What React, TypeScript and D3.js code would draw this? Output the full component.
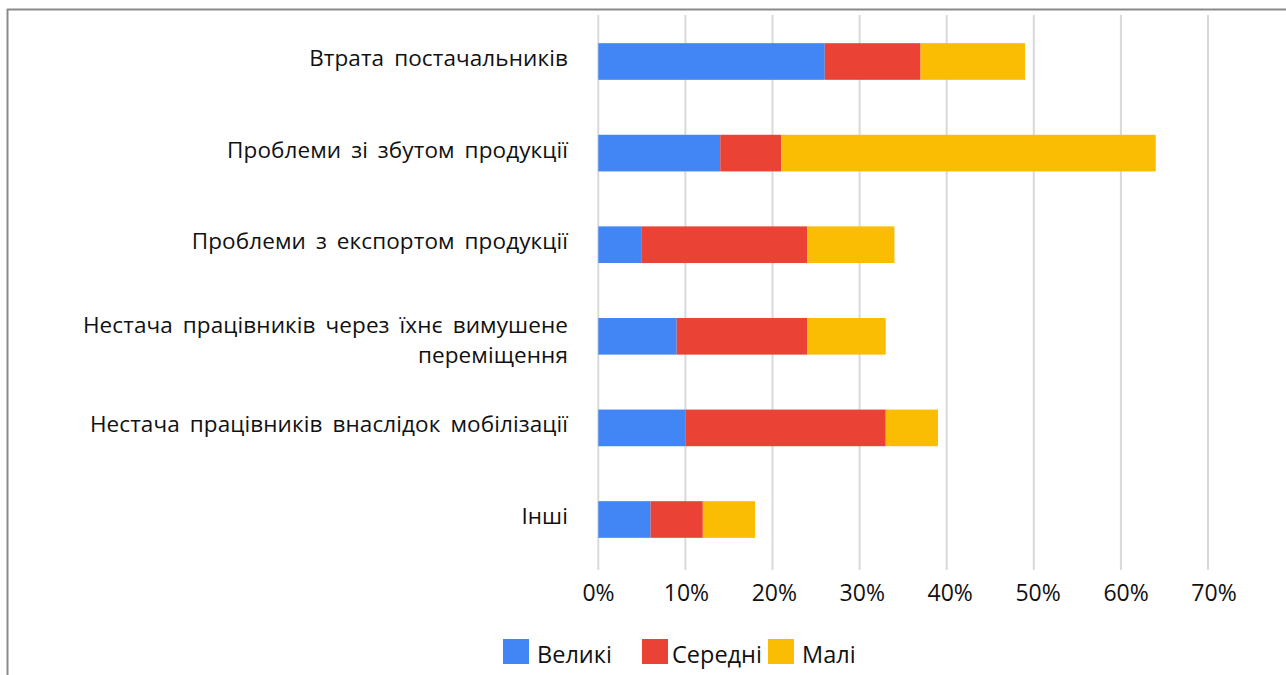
import React from "react";
import * as d3 from "d3";

const categories = [
  ["Втрата постачальників"],
  ["Проблеми зі збутом продукції"],
  ["Проблеми з експортом продукції"],
  ["Нестача працівників через їхнє вимушене", "переміщення"],
  ["Нестача працівників внаслідок мобілізації"],
  ["Інші"],
];
const seriesNames = ["Великі", "Середні", "Малі"];
const large = [26, 14, 5, 9, 10, 6];
const medium = [11, 7, 19, 15, 23, 6];
const small = [12, 43, 10, 9, 6, 6];
const colors = ["#4285F4", "#EA4335", "#FBBC04"];
const xTicks = [0, 10, 20, 30, 40, 50, 60, 70];

const W = 1286;
const H = 675;
const FONT = "'Open Sans', sans-serif";

export default function App() {
  const x = d3.scaleLinear().domain([0, 70]).range([598.3, 1208]);
  const xLabel = d3.scaleLinear().domain([0, 70]).range([598.5, 1214]);
  const y = d3
    .scaleBand<number>()
    .domain(d3.range(categories.length))
    .range([15.7, 565.3])
    .paddingInner(0.6)
    .paddingOuter(0.3);

  const rows = categories.map((_, i) => ({
    i,
    Великі: large[i],
    Середні: medium[i],
    Малі: small[i],
  }));
  const stack = d3.stack<any>().keys(seriesNames)(rows);

  const legendX = [503, 642, 768];
  const legendTextX = [537, 672, 802];

  return (
    <svg
      width={W}
      height={H}
      style={{ position: "absolute", left: 0, top: 0, background: "#fff" }}
      fontFamily={FONT}
    >
      <rect x={0} y={0} width={W} height={H} fill="#fff" />
      <line x1={7} y1={9.5} x2={W} y2={9.5} stroke="#8a8a8a" strokeWidth={2} />
      <line x1={7.5} y1={9} x2={7.5} y2={H} stroke="#8a8a8a" strokeWidth={2} />

      {xTicks.map((t) => (
        <line
          key={t}
          x1={x(t)}
          x2={x(t)}
          y1={15}
          y2={570}
          stroke="#d9d9d9"
          strokeWidth={2}
        />
      ))}

      {stack.map((s, si) =>
        s.map((d, i) => (
          <rect
            key={si + "-" + i}
            x={x(d[0])}
            width={x(d[1]) - x(d[0])}
            y={y(i)}
            height={y.bandwidth()}
            fill={colors[si]}
          />
        ))
      )}

      {categories.map((lines, i) => {
        const cy = (y(i) as number) + y.bandwidth() / 2;
        const n = lines.length;
        return (
          <text
            key={i}
            x={568}
            textAnchor="end"
            fontSize={22.5}
            letterSpacing={0.1}
            wordSpacing={4}
            fill="#111"
          >
            {lines.map((l, k) => (
              <tspan
                key={k}
                x={568}
                y={cy + (n > 1 ? (k === 0 ? -3.5 : 26.5) : 4.5)}
              >
                {l}
              </tspan>
            ))}
          </text>
        );
      })}

      {xTicks.map((t) => (
        <text
          key={t}
          x={xLabel(t)}
          y={601}
          textAnchor="middle"
          fontSize={23}
          fill="#111"
        >
          {t + "%"}
        </text>
      ))}

      {seriesNames.map((n, i) => (
        <g key={n}>
          <rect
            x={legendX[i]}
            y={639}
            width={26}
            height={25}
            fill={colors[i]}
          />
          <text x={legendTextX[i]} y={663} fontSize={23.5} fill="#111">
            {n}
          </text>
        </g>
      ))}
    </svg>
  );
}
